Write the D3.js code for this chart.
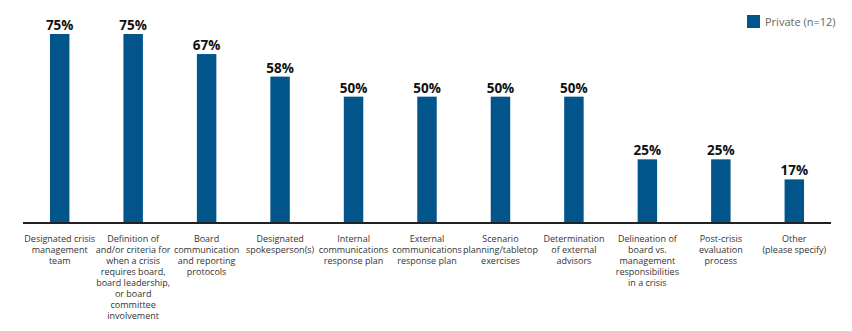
<!DOCTYPE html>
<html><head><meta charset="utf-8">
<script src="https://cdn.jsdelivr.net/npm/d3@7"></script>
<style>body{margin:0;background:#fff}svg{display:block}</style>
</head><body>
<svg id="c" width="852" height="331"></svg>
<script>
const categories = [
  ["Designated crisis","management","team"],
  ["Definition of","and/or criteria for","when a crisis","requires board,","board leadership,","or board","committee","involvement"],
  ["Board","communication","and reporting","protocols"],
  ["Designated","spokesperson(s)"],
  ["Internal","communications","response plan"],
  ["External","communications","response plan"],
  ["Scenario","planning/tabletop","exercises"],
  ["Determination","of external","advisors"],
  ["Delineation of","board vs.","management","responsibilities","in a crisis"],
  ["Post-crisis","evaluation","process"],
  ["Other","(please specify)"]
];
const values = [75, 75, 67, 58, 50, 50, 50, 50, 25, 25, 17];
const seriesName = "Private (n=12)";
const color = "#02558a";

const svg = d3.select("#c");
const font = "'Open Sans', sans-serif";
const x = d3.scaleBand().domain(d3.range(categories.length)).range([23, 831]).paddingInner(0.735).paddingOuter(0.367);
const y = d3.scaleLinear().domain([0, 75]).range([222, 34]);

svg.selectAll("rect.bar").data(values).join("rect").attr("class","bar")
  .attr("x",(d,i)=>x(i)).attr("width",x.bandwidth())
  .attr("y",d=>y(d)).attr("height",d=>y(0)-y(d)).attr("fill",color);

svg.selectAll("text.val").data(values).join("text").attr("class","val")
  .attr("x",(d,i)=>x(i)+x.bandwidth()/2).attr("y",d=>y(d)-4)
  .attr("text-anchor","middle").attr("font-family",font).attr("font-weight","700")
  .attr("font-size","13.5px").attr("fill","#111").text(d=>d+"%");

svg.append("line").attr("x1",23).attr("x2",831).attr("y1",223).attr("y2",223)
  .attr("stroke","#222").attr("stroke-width",2);

const lab = svg.selectAll("text.cat").data(categories).join("text").attr("class","cat")
  .attr("text-anchor","middle").attr("font-family",font).attr("font-size","9px").attr("fill","#333");
lab.each(function(lines,i){
  const t = d3.select(this);
  lines.forEach((l,j)=>{
    t.append("tspan").attr("x",x(i)+x.bandwidth()/2).attr("y",242+j*11).text(l);
  });
});

const lg = svg.append("g");
lg.append("rect").attr("x",747).attr("y",15).attr("width",13).attr("height",13).attr("fill",color);
lg.append("text").attr("x",765).attr("y",26).attr("font-family",font).attr("font-size","11px")
  .attr("fill","#666").text(seriesName);
</script>
</body></html>
